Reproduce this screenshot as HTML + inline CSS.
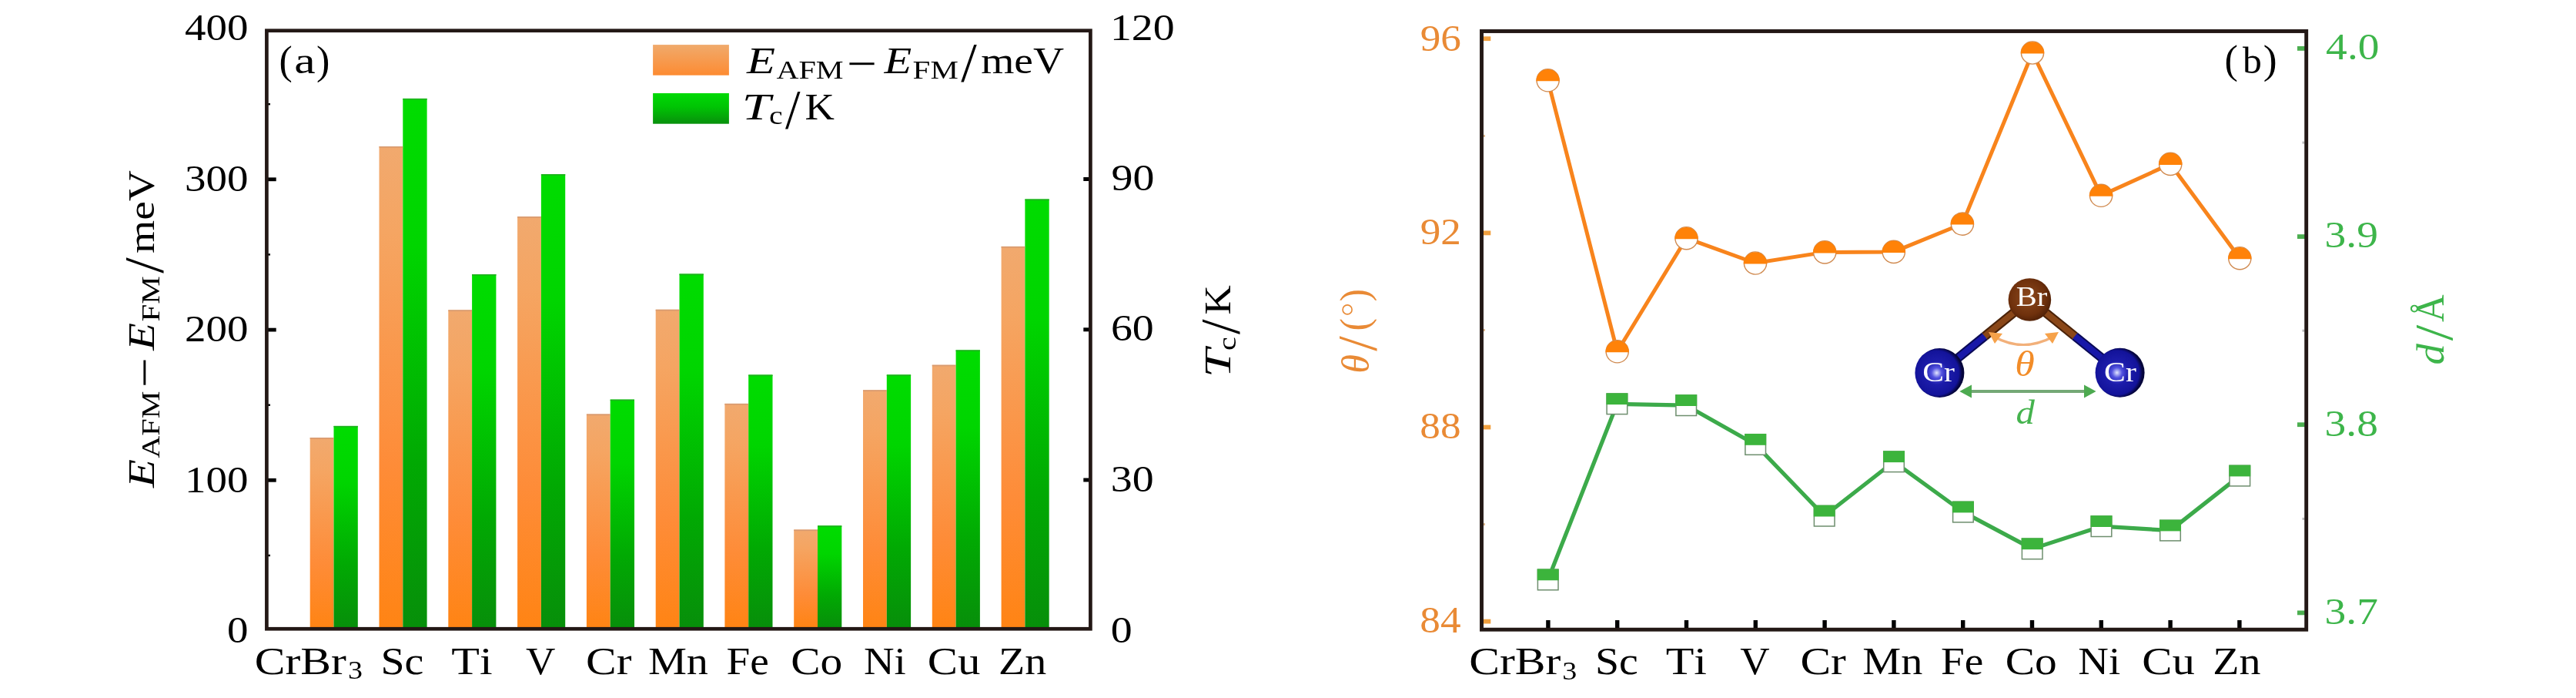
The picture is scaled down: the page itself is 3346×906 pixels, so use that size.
<!DOCTYPE html>
<html><head><meta charset="utf-8"><style>
html,body{margin:0;padding:0;background:#fff;}
svg{display:block;will-change:transform;font-family:"Liberation Serif",serif;font-kerning:none;font-variant-ligatures:none;}
</style></head><body>
<svg width="3346" height="906" viewBox="0 0 3346 906">
<rect width="3346" height="906" fill="#fff"/>
<defs>
<linearGradient id="go" x1="0" y1="0" x2="0" y2="1"><stop offset="0" stop-color="#F1A96E"/><stop offset="0.18" stop-color="#F5A562"/><stop offset="0.66" stop-color="#FE8C38"/><stop offset="1" stop-color="#FF8414"/></linearGradient>
<linearGradient id="gg" x1="0" y1="0" x2="0" y2="1"><stop offset="0" stop-color="#00DC00"/><stop offset="0.28" stop-color="#00D500"/><stop offset="0.69" stop-color="#01A903"/><stop offset="1" stop-color="#078F0A"/></linearGradient>
<linearGradient id="lgo" x1="0" y1="0" x2="0" y2="1"><stop offset="0" stop-color="#F0AA6C"/><stop offset="1" stop-color="#FD8B32"/></linearGradient>
<linearGradient id="lgg" x1="0" y1="0" x2="0" y2="1"><stop offset="0" stop-color="#00DA05"/><stop offset="0.45" stop-color="#00C404"/><stop offset="1" stop-color="#08900C"/></linearGradient>
<radialGradient id="gcr" cx="0.44" cy="0.5" r="0.52"><stop offset="0" stop-color="#E4E8FF"/><stop offset="0.2" stop-color="#5252E0"/><stop offset="0.45" stop-color="#1C1CAA"/><stop offset="0.86" stop-color="#13139A"/><stop offset="1" stop-color="#05053A"/></radialGradient>
<radialGradient id="gbr" cx="0.45" cy="0.45" r="0.6"><stop offset="0" stop-color="#8E4A1E"/><stop offset="0.7" stop-color="#6E300C"/><stop offset="1" stop-color="#4A1E06"/></radialGradient>
</defs>
<rect x="402.7" y="568.1" width="30.8" height="245.9" fill="url(#go)"/>
<rect x="433.5" y="552.9" width="31.3" height="261.1" fill="url(#gg)"/>
<rect x="402.7" y="568.1" width="30.8" height="1.6" fill="#D79A70"/>
<rect x="433.5" y="552.9" width="31.3" height="1.6" fill="#20B020"/>
<rect x="492.5" y="190.0" width="30.8" height="624.0" fill="url(#go)"/>
<rect x="523.3" y="127.9" width="31.3" height="686.1" fill="url(#gg)"/>
<rect x="492.5" y="190.0" width="30.8" height="1.6" fill="#D79A70"/>
<rect x="523.3" y="127.9" width="31.3" height="1.6" fill="#20B020"/>
<rect x="582.3" y="402.4" width="30.8" height="411.6" fill="url(#go)"/>
<rect x="613.1" y="356.0" width="31.3" height="458.0" fill="url(#gg)"/>
<rect x="582.3" y="402.4" width="30.8" height="1.6" fill="#D79A70"/>
<rect x="613.1" y="356.0" width="31.3" height="1.6" fill="#20B020"/>
<rect x="672.1" y="281.1" width="30.8" height="532.9" fill="url(#go)"/>
<rect x="702.9" y="226.1" width="31.3" height="587.9" fill="url(#gg)"/>
<rect x="672.1" y="281.1" width="30.8" height="1.6" fill="#D79A70"/>
<rect x="702.9" y="226.1" width="31.3" height="1.6" fill="#20B020"/>
<rect x="761.9" y="537.5" width="30.8" height="276.5" fill="url(#go)"/>
<rect x="792.7" y="518.6" width="31.3" height="295.4" fill="url(#gg)"/>
<rect x="761.9" y="537.5" width="30.8" height="1.6" fill="#D79A70"/>
<rect x="792.7" y="518.6" width="31.3" height="1.6" fill="#20B020"/>
<rect x="851.7" y="401.8" width="30.8" height="412.2" fill="url(#go)"/>
<rect x="882.5" y="355.5" width="31.3" height="458.5" fill="url(#gg)"/>
<rect x="851.7" y="401.8" width="30.8" height="1.6" fill="#D79A70"/>
<rect x="882.5" y="355.5" width="31.3" height="1.6" fill="#20B020"/>
<rect x="941.4" y="523.9" width="30.8" height="290.1" fill="url(#go)"/>
<rect x="972.2" y="486.5" width="31.3" height="327.5" fill="url(#gg)"/>
<rect x="941.4" y="523.9" width="30.8" height="1.6" fill="#D79A70"/>
<rect x="972.2" y="486.5" width="31.3" height="1.6" fill="#20B020"/>
<rect x="1031.2" y="687.5" width="30.8" height="126.5" fill="url(#go)"/>
<rect x="1062.0" y="682.3" width="31.3" height="131.7" fill="url(#gg)"/>
<rect x="1031.2" y="687.5" width="30.8" height="1.6" fill="#D79A70"/>
<rect x="1062.0" y="682.3" width="31.3" height="1.6" fill="#20B020"/>
<rect x="1121.0" y="506.3" width="30.8" height="307.7" fill="url(#go)"/>
<rect x="1151.8" y="486.4" width="31.3" height="327.6" fill="url(#gg)"/>
<rect x="1121.0" y="506.3" width="30.8" height="1.6" fill="#D79A70"/>
<rect x="1151.8" y="486.4" width="31.3" height="1.6" fill="#20B020"/>
<rect x="1210.8" y="473.7" width="30.8" height="340.3" fill="url(#go)"/>
<rect x="1241.6" y="454.4" width="31.3" height="359.6" fill="url(#gg)"/>
<rect x="1210.8" y="473.7" width="30.8" height="1.6" fill="#D79A70"/>
<rect x="1241.6" y="454.4" width="31.3" height="1.6" fill="#20B020"/>
<rect x="1300.6" y="319.9" width="30.8" height="494.1" fill="url(#go)"/>
<rect x="1331.4" y="258.5" width="31.3" height="555.5" fill="url(#gg)"/>
<rect x="1300.6" y="319.9" width="30.8" height="1.6" fill="#D79A70"/>
<rect x="1331.4" y="258.5" width="31.3" height="1.6" fill="#20B020"/>
<rect x="348" y="620.9" width="10.7" height="4.8" fill="#000"/>
<rect x="348" y="425.7" width="10.7" height="4.8" fill="#000"/>
<rect x="348" y="230.4" width="10.7" height="4.8" fill="#000"/>
<rect x="348" y="719.8" width="3" height="2.4" fill="#000"/>
<rect x="348" y="524.5" width="3" height="2.4" fill="#000"/>
<rect x="348" y="329.2" width="3" height="2.4" fill="#000"/>
<rect x="348" y="134.0" width="3" height="2.4" fill="#000"/>
<rect x="1407.3" y="620.5" width="7.5" height="5" fill="#000"/>
<rect x="1407.3" y="425.3" width="7.5" height="5" fill="#000"/>
<rect x="1407.3" y="230.0" width="7.5" height="5" fill="#000"/>
<rect x="346.4" y="39.75" width="1070" height="776.5" fill="none" stroke="#231815" stroke-width="4.7"/>
<rect x="848.1" y="58.1" width="98.8" height="39.6" fill="url(#lgo)"/>
<rect x="848.1" y="121" width="98.8" height="39.7" fill="url(#lgg)"/>
<text transform="translate(240.03,52.30) scale(1.1345,1)" font-size="48.46" fill="#000" style="">400</text>
<text transform="translate(240.03,248.20) scale(1.1345,1)" font-size="48.46" fill="#000" style="">300</text>
<text transform="translate(240.03,443.40) scale(1.1345,1)" font-size="48.46" fill="#000" style="">200</text>
<text transform="translate(240.03,638.50) scale(1.1345,1)" font-size="48.46" fill="#000" style="">100</text>
<text transform="translate(295.00,834.00) scale(1.1345,1)" font-size="48.46" fill="#000" style="">0</text>
<text transform="translate(1441.89,52.00) scale(1.1430,1)" font-size="48.90" fill="#000" style="">120</text>
<text transform="translate(1443.50,247.20) scale(1.1430,1)" font-size="48.90" fill="#000" style="">90</text>
<text transform="translate(1442.90,442.20) scale(1.1430,1)" font-size="48.90" fill="#000" style="">60</text>
<text transform="translate(1442.83,638.30) scale(1.1430,1)" font-size="48.90" fill="#000" style="">30</text>
<text transform="translate(1442.87,834.30) scale(1.1430,1)" font-size="48.90" fill="#000" style="">0</text>
<text transform="translate(362.52,95.63) scale(0.9782,1)" font-size="52.94" fill="#000" style="">(</text>
<text transform="translate(382.33,95.42) scale(1.2537,1)" font-size="49.27" fill="#000" style="">a</text>
<text transform="translate(411.12,95.63) scale(0.9856,1)" font-size="52.94" fill="#000" style="">)</text>
<text transform="translate(970.01,94.90) scale(1.2226,1)" font-size="49.50" fill="#000" style="font-style:italic;">E</text><text transform="translate(1008.41,101.50) scale(1.1657,1)" font-size="34.50" fill="#000" style="">AFM</text><rect x="1103.4" y="81.3" width="32.2" height="2.9" fill="#000"/><text transform="translate(1148.38,94.90) scale(1.1793,1)" font-size="49.50" fill="#000" style="font-style:italic;">E</text><text transform="translate(1185.62,101.50) scale(1.1868,1)" font-size="34.50" fill="#000" style="">FM</text><text transform="translate(1248.30,105.41) scale(1.0391,1)" font-size="71.01" fill="#000" style="">/</text><text transform="translate(1274.13,94.90) scale(1.1213,1)" font-size="49.50" fill="#000" style="">meV</text>
<text transform="translate(963.82,154.50) scale(1.3522,1)" font-size="49.50" fill="#000" style="font-style:italic;">T</text><text transform="translate(998.89,161.00) scale(1.1517,1)" font-size="34.50" fill="#000" style="">c</text><text transform="translate(1020.00,165.91) scale(0.9864,1)" font-size="71.16" fill="#000" style="">/</text><text transform="translate(1045.47,154.50) scale(1.0735,1)" font-size="49.50" fill="#000" style="">K</text>
<g transform="translate(105.1,1603.1) rotate(-90)"><text transform="translate(970.01,94.90) scale(1.2226,1)" font-size="49.50" fill="#000" style="font-style:italic;">E</text><text transform="translate(1008.41,101.50) scale(1.1657,1)" font-size="34.50" fill="#000" style="">AFM</text><rect x="1103.4" y="81.3" width="32.2" height="2.9" fill="#000"/><text transform="translate(1148.38,94.90) scale(1.1793,1)" font-size="49.50" fill="#000" style="font-style:italic;">E</text><text transform="translate(1185.62,101.50) scale(1.1868,1)" font-size="34.50" fill="#000" style="">FM</text><text transform="translate(1248.30,105.41) scale(1.0391,1)" font-size="71.01" fill="#000" style="">/</text><text transform="translate(1274.13,94.90) scale(1.1213,1)" font-size="49.50" fill="#000" style="">meV</text></g>
<g transform="translate(1443.5,1453.9) rotate(-90)"><text transform="translate(963.82,154.50) scale(1.3522,1)" font-size="49.50" fill="#000" style="font-style:italic;">T</text><text transform="translate(998.89,161.00) scale(1.1517,1)" font-size="34.50" fill="#000" style="">c</text><text transform="translate(1020.00,165.91) scale(0.9864,1)" font-size="71.16" fill="#000" style="">/</text><text transform="translate(1045.47,154.50) scale(1.0735,1)" font-size="49.50" fill="#000" style="">K</text></g>
<text transform="translate(330.76,874.90) scale(1.1965,1)" font-size="49.80" fill="#000" style="">CrBr</text><text transform="translate(451.88,881.40) scale(1.1016,1)" font-size="34.50" fill="#000" style="">3</text><text transform="translate(494.56,874.90) scale(1.1216,1)" font-size="49.80" fill="#000" style="">Sc</text><text transform="translate(586.32,874.90) scale(1.2050,1)" font-size="49.80" fill="#000" style="">Ti</text><text transform="translate(682.90,874.90) scale(1.0676,1)" font-size="49.80" fill="#000" style="">V</text><text transform="translate(761.06,874.90) scale(1.1940,1)" font-size="49.80" fill="#000" style="">Cr</text><text transform="translate(841.88,874.90) scale(1.1285,1)" font-size="49.80" fill="#000" style="">Mn</text><text transform="translate(943.61,874.90) scale(1.1107,1)" font-size="49.80" fill="#000" style="">Fe</text><text transform="translate(1027.25,874.90) scale(1.1518,1)" font-size="49.80" fill="#000" style="">Co</text><text transform="translate(1121.92,874.90) scale(1.1009,1)" font-size="49.80" fill="#000" style="">Ni</text><text transform="translate(1204.79,874.90) scale(1.1807,1)" font-size="49.80" fill="#000" style="">Cu</text><text transform="translate(1296.92,874.90) scale(1.1249,1)" font-size="49.80" fill="#000" style="">Zn</text>
<text transform="translate(1908.16,875.20) scale(1.1965,1)" font-size="49.80" fill="#000" style="">CrBr</text><text transform="translate(2029.28,881.70) scale(1.1016,1)" font-size="34.50" fill="#000" style="">3</text><text transform="translate(2071.96,875.20) scale(1.1216,1)" font-size="49.80" fill="#000" style="">Sc</text><text transform="translate(2163.72,875.20) scale(1.2050,1)" font-size="49.80" fill="#000" style="">Ti</text><text transform="translate(2260.30,875.20) scale(1.0676,1)" font-size="49.80" fill="#000" style="">V</text><text transform="translate(2338.46,875.20) scale(1.1940,1)" font-size="49.80" fill="#000" style="">Cr</text><text transform="translate(2419.28,875.20) scale(1.1285,1)" font-size="49.80" fill="#000" style="">Mn</text><text transform="translate(2521.01,875.20) scale(1.1107,1)" font-size="49.80" fill="#000" style="">Fe</text><text transform="translate(2604.65,875.20) scale(1.1518,1)" font-size="49.80" fill="#000" style="">Co</text><text transform="translate(2699.32,875.20) scale(1.1009,1)" font-size="49.80" fill="#000" style="">Ni</text><text transform="translate(2782.19,875.20) scale(1.1807,1)" font-size="49.80" fill="#000" style="">Cu</text><text transform="translate(2874.32,875.20) scale(1.1249,1)" font-size="49.80" fill="#000" style="">Zn</text>
<rect x="1926" y="803.7" width="10.3" height="5.8" fill="#F0A040"/>
<rect x="1926" y="551.6" width="10.3" height="5.8" fill="#F0A040"/>
<rect x="1926" y="299.5" width="10.3" height="5.8" fill="#F0A040"/>
<rect x="1926" y="47.3" width="10.3" height="5.8" fill="#F0A040"/>
<rect x="1926" y="679.1" width="3" height="3" fill="#DDB890"/>
<rect x="1926" y="427.0" width="3" height="3" fill="#DDB890"/>
<rect x="1926" y="174.9" width="3" height="3" fill="#DDB890"/>
<rect x="2984" y="792.5" width="10.5" height="5.8" fill="#4CAF50"/>
<rect x="2984" y="548.3" width="10.5" height="5.8" fill="#4CAF50"/>
<rect x="2984" y="304.2" width="10.5" height="5.8" fill="#4CAF50"/>
<rect x="2984" y="60.0" width="10.5" height="5.8" fill="#4CAF50"/>
<rect x="2990.5" y="671.9" width="3" height="3" fill="#BBB"/>
<rect x="2990.5" y="427.7" width="3" height="3" fill="#BBB"/>
<rect x="2990.5" y="183.6" width="3" height="3" fill="#BBB"/>
<rect x="2008.2" y="805" width="5.4" height="11" fill="#000"/>
<rect x="2098.0" y="805" width="5.4" height="11" fill="#000"/>
<rect x="2187.8" y="805" width="5.4" height="11" fill="#000"/>
<rect x="2277.6" y="805" width="5.4" height="11" fill="#000"/>
<rect x="2367.4" y="805" width="5.4" height="11" fill="#000"/>
<rect x="2457.2" y="805" width="5.4" height="11" fill="#000"/>
<rect x="2547.0" y="805" width="5.4" height="11" fill="#000"/>
<rect x="2636.8" y="805" width="5.4" height="11" fill="#000"/>
<rect x="2726.6" y="805" width="5.4" height="11" fill="#000"/>
<rect x="2816.4" y="805" width="5.4" height="11" fill="#000"/>
<rect x="2906.2" y="805" width="5.4" height="11" fill="#000"/>
<rect x="1924.5" y="40.5" width="1071.2" height="776.7" fill="none" stroke="#231815" stroke-width="4.9"/>
<text transform="translate(1844.69,66.30) scale(1.0864,1)" font-size="48.97" fill="#E98A35" style="">96</text>
<text transform="translate(1844.69,317.10) scale(1.0864,1)" font-size="48.97" fill="#E98A35" style="">92</text>
<text transform="translate(1844.37,569.20) scale(1.0864,1)" font-size="48.97" fill="#E98A35" style="">88</text>
<text transform="translate(1844.37,821.10) scale(1.0864,1)" font-size="48.97" fill="#E98A35" style="">84</text>
<text transform="translate(3021.12,77.40) scale(1.1223,1)" font-size="49.47" fill="#3DB54A" style="">4.0</text>
<text transform="translate(3019.54,321.30) scale(1.1223,1)" font-size="49.47" fill="#3DB54A" style="">3.9</text>
<text transform="translate(3019.54,566.30) scale(1.1223,1)" font-size="49.47" fill="#3DB54A" style="">3.8</text>
<text transform="translate(3019.54,809.80) scale(1.1223,1)" font-size="49.47" fill="#3DB54A" style="">3.7</text>
<text transform="translate(2889.51,95.41) scale(0.9835,1)" font-size="53.05" fill="#000" style="">(</text>
<text transform="translate(2913.10,94.84) scale(1.0413,1)" font-size="47.61" fill="#000" style="">b</text>
<text transform="translate(2939.77,95.41) scale(1.0129,1)" font-size="53.05" fill="#000" style="">)</text>
<g transform="translate(1777,482.2) rotate(-90)"><text transform="translate(-2.45,0.50) scale(0.9872,1)" font-size="50.78" fill="#E98A35" style="font-style:italic;">θ</text><text transform="translate(26.40,10.00) scale(0.9893,1)" font-size="71.31" fill="#E98A35" style="">/</text><text transform="translate(52.90,-0.16) scale(0.8972,1)" font-size="53.38" fill="#E98A35" style="">(</text><circle cx="80.3" cy="-26.9" r="6" fill="none" stroke="#E98A35" stroke-width="1.6"/><text transform="translate(91.04,-0.16) scale(0.9045,1)" font-size="53.38" fill="#E98A35" style="">)</text></g>
<g transform="translate(3174,471.8) rotate(-90)"><text transform="translate(-1.65,0.49) scale(1.0992,1)" font-size="49.71" fill="#3DB54A" style="font-style:italic;">d</text><text transform="translate(29.50,11.31) scale(1.0486,1)" font-size="70.71" fill="#3DB54A" style="">/</text><text transform="translate(53.92,0.00) scale(0.9223,1)" font-size="53.67" fill="#3DB54A" style="">Å</text></g>
<polyline points="2010.6,104.3 2100.7,456.3 2190.5,309.2 2280.0,341.5 2370.2,327.4 2459.8,326.9 2548.9,290.6 2640.0,68.5 2729.1,253.8 2819.2,212.9 2909.3,335.2" fill="none" stroke="#F8841C" stroke-width="5" stroke-linejoin="round"/>
<polyline points="2010.7,752.5 2100.4,524.3 2190.2,526.2 2280.2,577.0 2369.7,669.7 2460.0,599.3 2549.9,664.6 2639.7,712.4 2729.5,683.2 2819.0,688.6 2909.3,617.6" fill="none" stroke="#3CAA4A" stroke-width="5.2" stroke-linejoin="round"/>
<circle cx="2010.6" cy="104.3" r="14.6" fill="#fff" stroke="#D08A50" stroke-width="1.4"/>
<path d="M1995.3,105.3 A15.299999999999999,15.299999999999999 0 0 1 2025.9,105.3 Z" fill="#FF8208"/>
<circle cx="2100.7" cy="456.3" r="14.6" fill="#fff" stroke="#D08A50" stroke-width="1.4"/>
<path d="M2085.4,457.3 A15.299999999999999,15.299999999999999 0 0 1 2116.0,457.3 Z" fill="#FF8208"/>
<circle cx="2190.5" cy="309.2" r="14.6" fill="#fff" stroke="#D08A50" stroke-width="1.4"/>
<path d="M2175.2,310.2 A15.299999999999999,15.299999999999999 0 0 1 2205.8,310.2 Z" fill="#FF8208"/>
<circle cx="2280" cy="341.5" r="14.6" fill="#fff" stroke="#D08A50" stroke-width="1.4"/>
<path d="M2264.7,342.5 A15.299999999999999,15.299999999999999 0 0 1 2295.3,342.5 Z" fill="#FF8208"/>
<circle cx="2370.2" cy="327.4" r="14.6" fill="#fff" stroke="#D08A50" stroke-width="1.4"/>
<path d="M2354.9,328.4 A15.299999999999999,15.299999999999999 0 0 1 2385.5,328.4 Z" fill="#FF8208"/>
<circle cx="2459.8" cy="326.9" r="14.6" fill="#fff" stroke="#D08A50" stroke-width="1.4"/>
<path d="M2444.5,327.9 A15.299999999999999,15.299999999999999 0 0 1 2475.1,327.9 Z" fill="#FF8208"/>
<circle cx="2548.9" cy="290.6" r="14.6" fill="#fff" stroke="#D08A50" stroke-width="1.4"/>
<path d="M2533.6,291.6 A15.299999999999999,15.299999999999999 0 0 1 2564.2,291.6 Z" fill="#FF8208"/>
<circle cx="2640" cy="68.5" r="14.6" fill="#fff" stroke="#D08A50" stroke-width="1.4"/>
<path d="M2624.7,69.5 A15.299999999999999,15.299999999999999 0 0 1 2655.3,69.5 Z" fill="#FF8208"/>
<circle cx="2729.1" cy="253.8" r="14.6" fill="#fff" stroke="#D08A50" stroke-width="1.4"/>
<path d="M2713.8,254.8 A15.299999999999999,15.299999999999999 0 0 1 2744.4,254.8 Z" fill="#FF8208"/>
<circle cx="2819.2" cy="212.9" r="14.6" fill="#fff" stroke="#D08A50" stroke-width="1.4"/>
<path d="M2803.9,213.9 A15.299999999999999,15.299999999999999 0 0 1 2834.5,213.9 Z" fill="#FF8208"/>
<circle cx="2909.3" cy="335.2" r="14.6" fill="#fff" stroke="#D08A50" stroke-width="1.4"/>
<path d="M2894.0,336.2 A15.299999999999999,15.299999999999999 0 0 1 2924.6,336.2 Z" fill="#FF8208"/>
<rect x="1997.4" y="739.2" width="26.6" height="26.6" fill="#fff" stroke="#6E8E6E" stroke-width="1.5"/>
<rect x="1996.7" y="738.5" width="28.0" height="14.8" fill="#3CB43C"/>
<rect x="2087.1" y="511.0" width="26.6" height="26.6" fill="#fff" stroke="#6E8E6E" stroke-width="1.5"/>
<rect x="2086.4" y="510.3" width="28.0" height="14.8" fill="#3CB43C"/>
<rect x="2176.9" y="512.9" width="26.6" height="26.6" fill="#fff" stroke="#6E8E6E" stroke-width="1.5"/>
<rect x="2176.2" y="512.2" width="28.0" height="14.8" fill="#3CB43C"/>
<rect x="2266.9" y="563.7" width="26.6" height="26.6" fill="#fff" stroke="#6E8E6E" stroke-width="1.5"/>
<rect x="2266.2" y="563.0" width="28.0" height="14.8" fill="#3CB43C"/>
<rect x="2356.4" y="656.4" width="26.6" height="26.6" fill="#fff" stroke="#6E8E6E" stroke-width="1.5"/>
<rect x="2355.7" y="655.7" width="28.0" height="14.8" fill="#3CB43C"/>
<rect x="2446.7" y="586.0" width="26.6" height="26.6" fill="#fff" stroke="#6E8E6E" stroke-width="1.5"/>
<rect x="2446.0" y="585.3" width="28.0" height="14.8" fill="#3CB43C"/>
<rect x="2536.6" y="651.3" width="26.6" height="26.6" fill="#fff" stroke="#6E8E6E" stroke-width="1.5"/>
<rect x="2535.9" y="650.6" width="28.0" height="14.8" fill="#3CB43C"/>
<rect x="2626.4" y="699.1" width="26.6" height="26.6" fill="#fff" stroke="#6E8E6E" stroke-width="1.5"/>
<rect x="2625.7" y="698.4" width="28.0" height="14.8" fill="#3CB43C"/>
<rect x="2716.2" y="669.9" width="26.6" height="26.6" fill="#fff" stroke="#6E8E6E" stroke-width="1.5"/>
<rect x="2715.5" y="669.2" width="28.0" height="14.8" fill="#3CB43C"/>
<rect x="2805.7" y="675.3" width="26.6" height="26.6" fill="#fff" stroke="#6E8E6E" stroke-width="1.5"/>
<rect x="2805.0" y="674.6" width="28.0" height="14.8" fill="#3CB43C"/>
<rect x="2896.0" y="604.3" width="26.6" height="26.6" fill="#fff" stroke="#6E8E6E" stroke-width="1.5"/>
<rect x="2895.3" y="603.6" width="28.0" height="14.8" fill="#3CB43C"/>
<line x1="2636.4" y1="389.0" x2="2577.9" y2="436.5" stroke="#4A2208" stroke-width="12"/>
<line x1="2577.9" y1="436.5" x2="2519.4" y2="484.0" stroke="#0A0A55" stroke-width="12"/>
<line x1="2636.4" y1="389.0" x2="2577.9" y2="436.5" stroke="#8A4718" stroke-width="8"/>
<line x1="2577.9" y1="436.5" x2="2519.4" y2="484.0" stroke="#1818A8" stroke-width="8"/>
<line x1="2636.4" y1="389.0" x2="2695.0" y2="436.4" stroke="#4A2208" stroke-width="12"/>
<line x1="2695.0" y1="436.4" x2="2753.6" y2="483.7" stroke="#0A0A55" stroke-width="12"/>
<line x1="2636.4" y1="389.0" x2="2695.0" y2="436.4" stroke="#8A4718" stroke-width="8"/>
<line x1="2695.0" y1="436.4" x2="2753.6" y2="483.7" stroke="#1818A8" stroke-width="8"/>
<path d="M2590,437 Q2628,458 2667,437" fill="none" stroke="#F2B07A" stroke-width="3.2"/>
<path d="M2583,431 L2601,433 L2591,446 Z" fill="#F6A24A"/>
<path d="M2674,431 L2656,433 L2666,446 Z" fill="#F6A24A"/>
<line x1="2556" y1="508" x2="2712" y2="508" stroke="#74A876" stroke-width="4"/>
<path d="M2545.3,508 L2561,499.5 L2561,516.5 Z" fill="#4DAA50"/>
<path d="M2722.6,508 L2707,499.5 L2707,516.5 Z" fill="#4DAA50"/>
<circle cx="2636.4" cy="389.0" r="27.8" fill="url(#gbr)"/>
<circle cx="2519.4" cy="484.0" r="32" fill="url(#gcr)"/>
<circle cx="2753.6" cy="483.7" r="32" fill="url(#gcr)"/>
<text transform="translate(2618.73,396.99) scale(1.1246,1)" font-size="36.03" fill="#fff" style="">Br</text>
<text transform="translate(2497.19,494.85) scale(1.1571,1)" font-size="36.02" fill="#fff" style="">Cr</text>
<text transform="translate(2733.09,495.05) scale(1.1476,1)" font-size="36.32" fill="#fff" style="">Cr</text>
<text transform="translate(2617.36,487.65) scale(1.1248,1)" font-size="46.26" fill="#F28C28" style="font-style:italic;">θ</text>
<text transform="translate(2618.53,549.85) scale(1.1208,1)" font-size="43.46" fill="#45B34E" style="font-style:italic;">d</text>
</svg></body></html>
